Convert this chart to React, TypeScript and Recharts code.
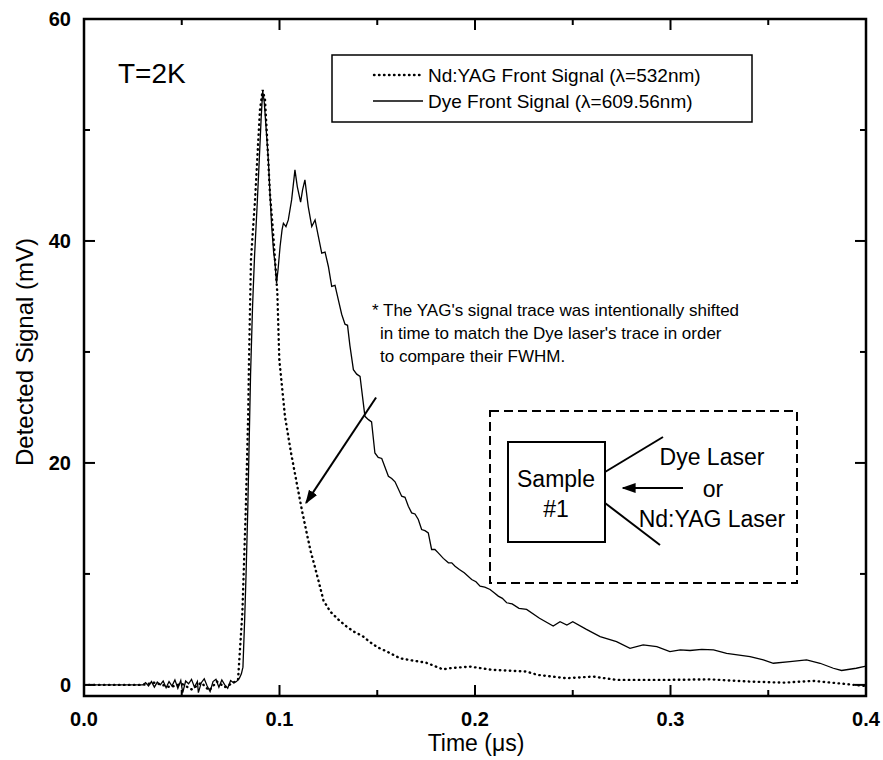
import { LineChart, Line, XAxis, YAxis, Customized } from 'recharts'

const FONT = '"Liberation Sans", Arial, Helvetica, sans-serif'

// Dye front signal (lambda = 609.56 nm), solid trace
const dyeTime = [
  0, 0.01, 0.02, 0.03, 0.0315, 0.033, 0.0345, 0.036, 0.0375, 0.039, 0.0405, 0.042, 0.0435,
  0.045, 0.0465, 0.048, 0.0495, 0.0505, 0.052, 0.0535, 0.055, 0.0565, 0.058, 0.0585, 0.06,
  0.0615, 0.063, 0.0645, 0.066, 0.0675, 0.069, 0.0705, 0.072, 0.0735, 0.075, 0.0765, 0.078,
  0.0795, 0.0805, 0.0813, 0.0822, 0.0829, 0.0838, 0.0845, 0.0852, 0.0862, 0.0872,
  0.0885, 0.0897, 0.0906, 0.0914, 0.0922, 0.0932, 0.0943, 0.0952, 0.096, 0.097, 0.0977,
  0.0985, 0.0993, 0.1003, 0.1013, 0.102, 0.1033, 0.1045, 0.1062, 0.1079, 0.1091, 0.1108,
  0.1118, 0.113, 0.1147, 0.1165, 0.1182, 0.1199, 0.1216, 0.1233, 0.125, 0.1267, 0.1284,
  0.1301, 0.1318, 0.1335, 0.1348, 0.136, 0.1378, 0.1395, 0.1412, 0.1437, 0.1455, 0.1471,
  0.1488, 0.1505, 0.1523, 0.1557, 0.1574, 0.1591, 0.1625, 0.1642, 0.1659, 0.1676, 0.1693,
  0.171, 0.1727, 0.1744, 0.1761, 0.1778, 0.1795, 0.1812, 0.1838, 0.1864, 0.1881, 0.1898,
  0.192, 0.1945, 0.1983, 0.2005, 0.2026, 0.205, 0.2077, 0.2098, 0.2119, 0.214, 0.2162,
  0.219, 0.2225, 0.2264, 0.233, 0.24, 0.2435, 0.247, 0.25, 0.257, 0.264,
  0.2724, 0.2793, 0.286, 0.293, 0.2997, 0.305, 0.31, 0.316, 0.322, 0.3287, 0.3407, 0.3475,
  0.3526, 0.3611, 0.3696, 0.3765, 0.3833, 0.3875, 0.395, 0.4,
]
const dyeSignal = [
  0, 0, 0, 0, 0.2, -0.1, 0.3, -0.2, 0.25, 0, 0.35, -0.25, 0.3,
  -0.1, 0.45, -0.3, 0.4, -0.7, 0.35, 0.1, 0.5, -0.2, 0.3, -0.7, 0.2,
  0.55, -0.1, -0.6, 0.3, 0.5, -0.2, 0.45, 0, -0.3, 0.4, 0.2, 0.3,
  0.6, 1.0, 1.6, 6, 10, 16, 22, 28, 34, 38.5,
  43, 47.5, 51, 53.5, 52.5, 50, 47.3, 44, 41.3, 39, 38,
  36.2, 37.5, 39.5, 41, 41.6, 41.3, 41.9, 43.7, 46.4, 44.9, 43.5,
  44.6, 45.5, 43.1, 41.3, 41.9, 40.4, 38.9, 39.0, 37.7, 35.9, 36.0,
  34.7, 33.4, 32.5, 32.4, 30.6, 28.4, 28.0, 27.8, 24.2, 23.9, 23.7,
  20.9, 20.5, 20.4, 18.8, 18.6, 18.3, 17.0, 16.9, 16.1, 15.5, 15.4,
  14.9, 14.0, 13.9, 13.7, 12.2, 12.2, 11.9, 11.4, 11.0, 11.0, 10.7,
  10.4, 10.1, 9.5, 9.3, 8.9, 8.8, 8.6, 8.3, 8.0, 7.8, 7.4,
  7.3, 6.9, 6.8, 6.0, 5.3, 5.7, 5.4, 5.7, 5.0, 4.35,
  3.9, 3.3, 3.6, 3.45, 3.0, 3.15, 3.1, 3.2, 3.15, 2.85, 2.55, 2.25,
  1.95, 2.1, 2.25, 1.95, 1.5, 1.3, 1.5, 1.7,
]

// Nd:YAG front signal (lambda = 532 nm), dotted trace
const yagTime = [
  0, 0.03, 0.036, 0.044, 0.05, 0.055, 0.06, 0.064, 0.068, 0.072, 0.0765, 0.0788, 0.081,
  0.0827, 0.084, 0.0844, 0.0849, 0.0854, 0.0863, 0.0875, 0.0886, 0.09, 0.0914, 0.0926,
  0.0938, 0.0951, 0.0965, 0.0977, 0.0989, 0.0999, 0.1028, 0.1058, 0.1088, 0.1114, 0.1139,
  0.116, 0.118, 0.1205, 0.1225, 0.126, 0.13, 0.134, 0.138, 0.1425, 0.146, 0.15, 0.155,
  0.1616, 0.168, 0.175, 0.1836, 0.187, 0.1974, 0.209, 0.2264, 0.232, 0.2469, 0.2605,
  0.2724, 0.298, 0.32, 0.34, 0.3577, 0.373, 0.3884, 0.3995,
]
const yagSignal = [
  0, 0, 0.2, -0.2, 0.1, -0.4, 0.2, -0.5, 0.3, -0.2, 0.2, 0.5, 6.5,
  15.5, 24.5, 29.3, 33.8, 38.3, 40.7, 43.7, 47.3, 51.8, 53.6, 52.7,
  48.8, 44.3, 41.3, 38.3, 35.3, 29.3, 24.2, 21, 18.2, 15.8, 13.7,
  12.0, 10.7, 9.0, 7.6, 6.6, 5.9, 5.3, 4.8, 4.4, 3.9, 3.4, 3.0,
  2.4, 2.2, 2.0, 1.4, 1.5, 1.65, 1.35, 1.2, 0.9, 0.6, 0.75,
  0.45, 0.45, 0.5, 0.3, 0.2, 0.36, 0.1, -0.1,
]

const xTicks = [0, 0.05, 0.1, 0.15, 0.2, 0.25, 0.3, 0.35, 0.4]
const xMajor = [0, 0.1, 0.2, 0.3, 0.4]
const yTicks = [0, 10, 20, 30, 40, 50, 60]
const yMajor = [0, 20, 40, 60]

const legendItems = ['Nd:YAG Front Signal (λ=532nm)', 'Dye Front Signal (λ=609.56nm)']
const noteLines = [
  "* The YAG's signal trace was intentionally shifted",
  "in time to match the Dye laser's trace in order",
  'to compare their FWHM.',
]

const dyeData = dyeTime.map((t, i) => ({ t, v: dyeSignal[i] }))
const yagData = yagTime.map((t, i) => ({ t, v: yagSignal[i] }))

// plot frame in pixels
const W = 883
const H = 760
const PLOT = { left: 84, right: 866, top: 19, bottom: 696 }
const X_DOMAIN: [number, number] = [0, 0.4]
const Y_DOMAIN: [number, number] = [-1, 60]

const sx = (t: number) => PLOT.left + ((t - X_DOMAIN[0]) / (X_DOMAIN[1] - X_DOMAIN[0])) * (PLOT.right - PLOT.left)
const sy = (v: number) => PLOT.bottom - ((v - Y_DOMAIN[0]) / (Y_DOMAIN[1] - Y_DOMAIN[0])) * (PLOT.bottom - PLOT.top)

const isMajor = (list: number[], v: number) => list.some((m) => Math.abs(m - v) < 1e-9)

// dotted style used by the YAG trace and its legend sample
const DOTS = { strokeWidth: 2.4, strokeDasharray: '0.5 4.5', strokeLinecap: 'round' as const }

function XTick({ x, payload }: any) {
  const major = isMajor(xMajor, payload.value)
  const len = major ? 11 : 6
  return (
    <g>
      <line x1={x} x2={x} y1={PLOT.bottom} y2={PLOT.bottom - len} stroke="#000" strokeWidth={2} />
      <line x1={x} x2={x} y1={PLOT.top} y2={PLOT.top + len} stroke="#000" strokeWidth={2} />
      {major && (
        <text x={x} y={726} textAnchor="middle" fontFamily={FONT} fontSize={20} fontWeight="bold" fill="#000">
          {payload.value.toFixed(1)}
        </text>
      )}
    </g>
  )
}

function YTick({ y, payload }: any) {
  const major = isMajor(yMajor, payload.value)
  const len = major ? 11 : 6
  return (
    <g>
      <line x1={PLOT.left} x2={PLOT.left + len} y1={y} y2={y} stroke="#000" strokeWidth={2} />
      <line x1={PLOT.right} x2={PLOT.right - len} y1={y} y2={y} stroke="#000" strokeWidth={2} />
      {major && (
        <text x={71} y={y + 7} textAnchor="end" fontFamily={FONT} fontSize={20} fontWeight="bold" fill="#000">
          {payload.value}
        </text>
      )}
    </g>
  )
}

function Overlay() {
  return (
    <g fontFamily={FONT} fill="#000">
      <defs>
        <marker id="head" viewBox="0 0 10 10" refX="9" refY="5" markerWidth="7" markerHeight="7" orient="auto">
          <path d="M0,1.5 L10,5 L0,8.5 z" fill="#000" />
        </marker>
      </defs>

      {/* frame */}
      <rect
        x={PLOT.left}
        y={PLOT.top}
        width={PLOT.right - PLOT.left}
        height={PLOT.bottom - PLOT.top}
        fill="none"
        stroke="#000"
        strokeWidth={2.5}
      />

      {/* axis titles */}
      <text x={(PLOT.left + PLOT.right) / 2 + 1} y={751} textAnchor="middle" fontSize={23}>
        Time (μs)
      </text>
      <text transform="translate(33, 352) rotate(-90)" textAnchor="middle" fontSize={24}>
        Detected Signal (mV)
      </text>

      <text x={118} y={83} fontSize={28}>
        T=2K
      </text>

      {/* legend */}
      <rect x={332} y={55} width={420} height={67} fill="#fff" stroke="#000" strokeWidth={1.5} />
      <line x1={374} x2={423} y1={75} y2={75} stroke="#000" {...DOTS} />
      <text x={428} y={82} fontSize={19}>
        {legendItems[0]}
      </text>
      <line x1={373} x2={423} y1={101} y2={101} stroke="#000" strokeWidth={1.3} />
      <text x={428} y={108} fontSize={19}>
        {legendItems[1]}
      </text>

      {/* note + arrow pointing at the YAG trace */}
      {noteLines.map((s, i) => (
        <text key={i} x={i === 0 ? 372 : 380} y={316 + i * 23} fontSize={17}>
          {s}
        </text>
      ))}
      <line
        x1={sx(0.1494)}
        y1={sy(25.9)}
        x2={sx(0.1136)}
        y2={sy(16.4)}
        stroke="#000"
        strokeWidth={2}
        markerEnd="url(#head)"
      />

      {/* setup sketch */}
      <rect x={490} y={411} width={307} height={172} fill="none" stroke="#000" strokeWidth={2} strokeDasharray="9 5" />
      <rect x={508} y={442} width={97} height={100} fill="none" stroke="#000" strokeWidth={2} />
      <text x={556} y={487} textAnchor="middle" fontSize={23}>
        Sample
      </text>
      <text x={556} y={517} textAnchor="middle" fontSize={23}>
        #1
      </text>
      <line x1={605} y1={472} x2={663} y2={437} stroke="#000" strokeWidth={2} />
      <line x1={605} y1={503} x2={660} y2={545} stroke="#000" strokeWidth={2} />
      <line x1={683} y1={488} x2={623} y2={488} stroke="#000" strokeWidth={2} markerEnd="url(#head)" />
      <text x={712} y={465} textAnchor="middle" fontSize={23}>
        Dye Laser
      </text>
      <text x={713} y={497} textAnchor="middle" fontSize={23}>
        or
      </text>
      <text x={712} y={527} textAnchor="middle" fontSize={23}>
        Nd:YAG Laser
      </text>
    </g>
  )
}

export default function App() {
  return (
    <div style={{ position: 'absolute', left: 0, top: 0, width: W, height: H, background: '#fff' }}>
      <LineChart width={W} height={H} margin={{ top: PLOT.top, right: W - PLOT.right, bottom: 0, left: 0 }}>
        <XAxis
          type="number"
          dataKey="t"
          domain={X_DOMAIN}
          ticks={xTicks}
          interval={0}
          height={H - PLOT.bottom}
          axisLine={false}
          tickLine={false}
          tick={<XTick />}
          allowDataOverflow
        />
        <YAxis
          type="number"
          dataKey="v"
          domain={Y_DOMAIN}
          ticks={yTicks}
          interval={0}
          width={PLOT.left}
          axisLine={false}
          tickLine={false}
          tick={<YTick />}
          allowDataOverflow
        />
        <Line
          data={yagData}
          dataKey="v"
          type="linear"
          stroke="#000"
          {...DOTS}
          dot={false}
          activeDot={false}
          isAnimationActive={false}
        />
        <Line
          data={dyeData}
          dataKey="v"
          type="linear"
          stroke="#000"
          strokeWidth={1.3}
          dot={false}
          activeDot={false}
          isAnimationActive={false}
        />
        <Customized component={<Overlay />} />
      </LineChart>
    </div>
  )
}
